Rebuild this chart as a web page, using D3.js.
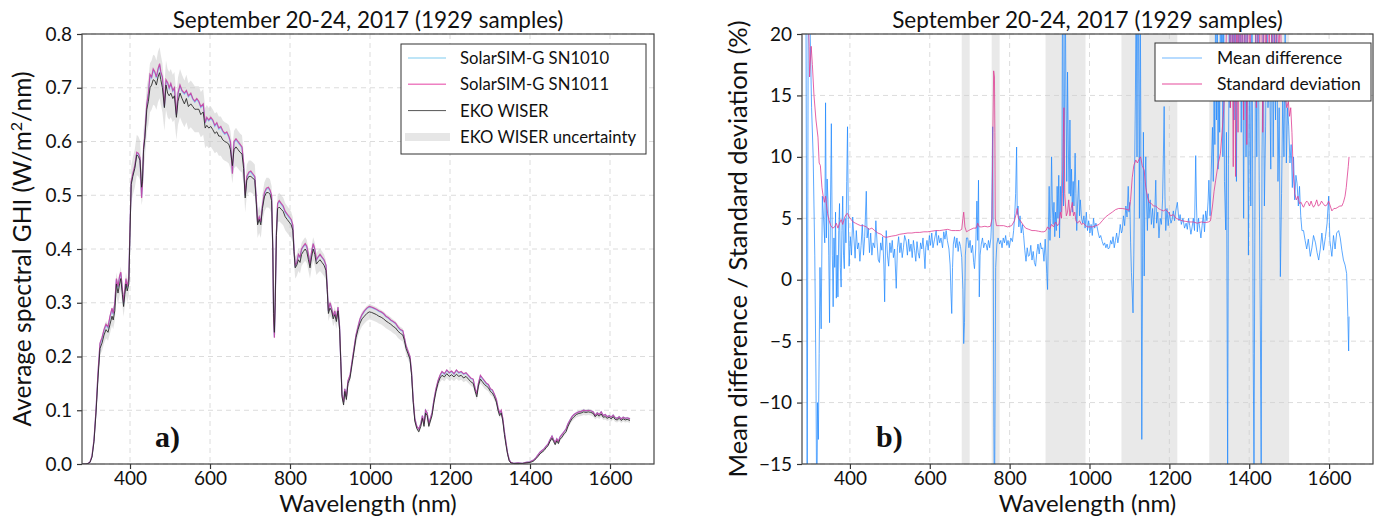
<!DOCTYPE html>
<html>
<head>
<meta charset="utf-8">
<script src="https://cdn.jsdelivr.net/npm/d3@7"></script>
<style>
  body { margin: 0; background: #fff; }
  svg text { font-family: Lato, "Open Sans", sans-serif; fill: #111; }
</style>
</head>
<body>
<svg id="chart" width="1385" height="521"></svg>
<script>
// ---- data ----
// panel a) spectra, shared wavelength grid (nm)
var specWl = [
  280,290,295,300,305,310,315,320,325,330,
  335,340,345,350,355,358,362,366,370,374,
  377,381,384,387,390,393,397,400,403,407,
  412,417,421,425,429,431,434,437,442,446,
  450,454,458,462,466,470,474,477,481,486,
  490,494,498,502,507,511,516,520,525,530,
  536,541,546,552,557,562,567,572,577,583,
  588,592,597,602,607,612,617,622,627,632,
  637,642,647,651,656,660,665,670,675,680,
  684,688,692,697,702,707,712,716,719,723,
  727,731,736,741,746,750,754,757,759,761,
  763,766,769,773,778,783,788,793,798,803,
  807,810,813,817,821,825,829,833,838,842,
  846,850,854,858,862,866,870,875,880,885,
  890,893,896,900,904,908,912,916,920,924,
  927,930,934,937,941,945,950,955,960,965,
  970,975,980,986,992,998,1004,1010,1016,1022,
  1028,1034,1040,1046,1052,1058,1064,1070,1076,1082,
  1086,1090,1095,1100,1104,1108,1112,1117,1122,1127,
  1131,1135,1139,1143,1147,1151,1155,1160,1165,1170,
  1175,1180,1186,1192,1198,1204,1210,1216,1222,1228,
  1234,1240,1246,1252,1258,1263,1267,1271,1276,1281,
  1286,1291,1296,1301,1306,1311,1316,1320,1324,1328,
  1332,1336,1340,1344,1348,1352,1360,1370,1380,1390,
  1400,1405,1410,1415,1420,1425,1430,1435,1440,1445,
  1450,1455,1459,1463,1467,1471,1475,1480,1485,1490,
  1495,1500,1505,1510,1516,1522,1528,1534,1540,1546,
  1552,1558,1563,1568,1573,1578,1583,1588,1593,1598,
  1603,1608,1613,1618,1623,1628,1633,1638,1643,1650
];

var sn1010 = [
  0,0,0.001,0.004,0.014,0.044,0.099,0.168,0.223,0.233,
  0.248,0.258,0.253,0.273,0.288,0.278,0.298,0.343,0.328,0.348,
  0.355,0.323,0.298,0.323,0.343,0.328,0.343,0.438,0.523,0.538,
  0.553,0.578,0.576,0.568,0.497,0.519,0.588,0.608,0.668,0.688,
  0.722,0.718,0.732,0.728,0.718,0.732,0.742,0.728,0.718,0.664,
  0.712,0.708,0.698,0.706,0.693,0.698,0.649,0.688,0.703,0.693,
  0.688,0.693,0.683,0.688,0.678,0.673,0.678,0.673,0.663,0.668,
  0.634,0.643,0.638,0.643,0.638,0.628,0.633,0.623,0.626,0.618,
  0.613,0.616,0.608,0.598,0.541,0.598,0.603,0.598,0.593,0.588,
  0.558,0.499,0.533,0.541,0.543,0.538,0.533,0.489,0.449,0.459,
  0.449,0.479,0.503,0.511,0.513,0.508,0.498,0.399,0.27,0.236,
  0.30,0.429,0.483,0.488,0.483,0.478,0.468,0.463,0.458,0.453,
  0.443,0.399,0.369,0.374,0.389,0.384,0.399,0.404,0.408,0.403,
  0.389,0.369,0.394,0.408,0.399,0.379,0.384,0.389,0.384,0.379,
  0.369,0.329,0.284,0.299,0.289,0.274,0.284,0.269,0.291,0.254,
  0.19,0.13,0.115,0.14,0.125,0.154,0.164,0.189,0.214,0.239,
  0.254,0.269,0.277,0.284,0.289,0.292,0.291,0.289,0.287,0.284,
  0.282,0.279,0.274,0.271,0.267,0.264,0.261,0.254,0.249,0.247,
  0.234,0.219,0.209,0.199,0.169,0.119,0.085,0.07,0.065,0.075,
  0.09,0.075,0.10,0.095,0.075,0.085,0.095,0.12,0.139,0.154,
  0.164,0.171,0.167,0.174,0.169,0.172,0.167,0.174,0.169,0.171,
  0.167,0.169,0.164,0.159,0.157,0.14,0.13,0.149,0.164,0.159,
  0.154,0.149,0.147,0.139,0.137,0.129,0.119,0.104,0.094,0.099,
  0.084,0.06,0.04,0.02,0.008,0.003,0.001,0.002,0.001,0.003,
  0.004,0.006,0.008,0.012,0.017,0.022,0.025,0.028,0.033,0.037,
  0.045,0.052,0.045,0.04,0.047,0.042,0.05,0.055,0.06,0.065,
  0.075,0.082,0.088,0.092,0.095,0.097,0.098,0.10,0.099,0.10,
  0.099,0.097,0.09,0.095,0.092,0.097,0.09,0.092,0.088,0.09,
  0.087,0.091,0.086,0.085,0.088,0.084,0.087,0.085,0.086,0.084
];

var sn1011 = [
  0,0,0.001,0.004,0.015,0.045,0.10,0.17,0.225,0.235,
  0.25,0.26,0.255,0.275,0.29,0.28,0.30,0.345,0.33,0.35,
  0.357,0.325,0.30,0.325,0.345,0.33,0.345,0.44,0.525,0.54,
  0.555,0.58,0.578,0.57,0.495,0.52,0.59,0.61,0.67,0.69,
  0.725,0.72,0.735,0.73,0.72,0.735,0.745,0.73,0.72,0.665,
  0.715,0.71,0.70,0.708,0.695,0.70,0.65,0.69,0.705,0.695,
  0.69,0.695,0.685,0.69,0.68,0.675,0.68,0.675,0.665,0.67,
  0.635,0.645,0.64,0.645,0.64,0.63,0.635,0.625,0.628,0.62,
  0.615,0.618,0.61,0.60,0.54,0.60,0.605,0.60,0.595,0.59,
  0.56,0.50,0.535,0.543,0.545,0.54,0.535,0.49,0.45,0.46,
  0.45,0.48,0.505,0.513,0.515,0.51,0.50,0.40,0.27,0.235,
  0.30,0.43,0.485,0.49,0.485,0.48,0.47,0.465,0.46,0.455,
  0.445,0.40,0.37,0.375,0.39,0.385,0.40,0.405,0.41,0.405,
  0.39,0.37,0.395,0.41,0.40,0.38,0.385,0.39,0.385,0.38,
  0.37,0.33,0.285,0.30,0.29,0.275,0.285,0.27,0.292,0.255,
  0.19,0.13,0.115,0.14,0.125,0.155,0.165,0.19,0.215,0.24,
  0.255,0.27,0.278,0.285,0.29,0.293,0.292,0.29,0.288,0.285,
  0.283,0.28,0.275,0.272,0.268,0.265,0.262,0.255,0.25,0.248,
  0.235,0.22,0.21,0.20,0.17,0.12,0.085,0.07,0.065,0.075,
  0.09,0.075,0.10,0.095,0.075,0.085,0.095,0.12,0.14,0.155,
  0.165,0.172,0.168,0.175,0.17,0.173,0.168,0.175,0.17,0.172,
  0.168,0.17,0.165,0.16,0.158,0.14,0.13,0.15,0.165,0.16,
  0.155,0.15,0.148,0.14,0.138,0.13,0.12,0.105,0.095,0.10,
  0.085,0.06,0.04,0.02,0.008,0.003,0.001,0.002,0.001,0.003,
  0.004,0.006,0.008,0.012,0.017,0.022,0.025,0.028,0.033,0.037,
  0.045,0.052,0.045,0.04,0.047,0.042,0.05,0.055,0.06,0.065,
  0.075,0.082,0.088,0.092,0.095,0.097,0.098,0.10,0.099,0.10,
  0.099,0.097,0.09,0.095,0.092,0.097,0.09,0.092,0.088,0.09,
  0.087,0.091,0.086,0.085,0.088,0.084,0.087,0.085,0.086,0.084
];

var ekoWiser = [
  0,0,0.001,0.003,0.013,0.042,0.095,0.16,0.215,0.225,
  0.24,0.25,0.245,0.26,0.275,0.268,0.285,0.335,0.318,0.335,
  0.345,0.315,0.293,0.315,0.335,0.322,0.335,0.43,0.52,0.535,
  0.55,0.575,0.572,0.565,0.515,0.525,0.585,0.605,0.66,0.675,
  0.70,0.705,0.715,0.713,0.705,0.72,0.728,0.715,0.70,0.663,
  0.705,0.69,0.685,0.69,0.68,0.685,0.645,0.675,0.69,0.68,
  0.67,0.68,0.665,0.67,0.665,0.66,0.66,0.66,0.65,0.655,
  0.625,0.63,0.625,0.628,0.622,0.615,0.618,0.61,0.61,0.603,
  0.60,0.598,0.595,0.585,0.555,0.585,0.59,0.585,0.58,0.577,
  0.55,0.495,0.528,0.535,0.535,0.532,0.528,0.482,0.445,0.455,
  0.445,0.475,0.497,0.505,0.505,0.502,0.49,0.40,0.28,0.245,
  0.30,0.425,0.475,0.478,0.474,0.47,0.46,0.455,0.45,0.445,
  0.435,0.395,0.365,0.37,0.38,0.375,0.39,0.395,0.40,0.395,
  0.38,0.365,0.385,0.40,0.39,0.372,0.376,0.38,0.375,0.37,
  0.36,0.325,0.28,0.29,0.285,0.27,0.278,0.265,0.285,0.25,
  0.19,0.125,0.11,0.135,0.12,0.15,0.16,0.185,0.21,0.235,
  0.25,0.262,0.27,0.275,0.28,0.283,0.282,0.28,0.278,0.275,
  0.273,0.27,0.266,0.263,0.26,0.256,0.253,0.247,0.243,0.24,
  0.23,0.215,0.205,0.195,0.165,0.115,0.08,0.066,0.06,0.07,
  0.085,0.07,0.095,0.09,0.07,0.08,0.09,0.115,0.135,0.15,
  0.16,0.165,0.162,0.168,0.163,0.166,0.162,0.167,0.163,0.165,
  0.16,0.163,0.158,0.153,0.15,0.135,0.125,0.145,0.158,0.153,
  0.148,0.145,0.142,0.135,0.132,0.125,0.115,0.10,0.09,0.095,
  0.08,0.055,0.035,0.018,0.006,0.002,0.001,0.001,0.001,0.002,
  0.003,0.004,0.006,0.01,0.014,0.019,0.022,0.025,0.03,0.034,
  0.042,0.048,0.042,0.036,0.043,0.038,0.046,0.05,0.056,0.06,
  0.07,0.078,0.084,0.088,0.092,0.094,0.095,0.097,0.096,0.097,
  0.096,0.094,0.088,0.092,0.089,0.093,0.087,0.088,0.085,0.087,
  0.084,0.088,0.083,0.082,0.085,0.081,0.084,0.082,0.083,0.081
];

// EKO WISER uncertainty (% of reading)
var ekoUncPct = [
  6,6,6,6,6,6,6,6,6,6.5,
  6.5,6.5,6.5,6.5,6.5,6.5,6.5,6.5,6.5,6.5,
  6.5,6.5,6.5,6.5,6.5,6.5,6.5,6.5,6.5,6.5,
  6.5,6.5,6.5,6.5,6.5,6.5,6.5,6.5,6.5,6.5,
  6.5,6.5,6.5,6.5,6.5,6.5,6.5,6.5,6.5,6.5,
  6.5,6.5,6.5,6.5,6.5,6.5,6.5,6.5,6.5,6.5,
  6.5,6.5,6.5,6.5,6.5,6.5,6.5,6.5,6.5,6.5,
  6,6,6,6,6,6,6,6,6,6,
  6,6,6,6,6,6,6,6,6,6,
  5.5,5.5,5.5,5.5,5.5,5.5,5.5,5.5,5.5,5.5,
  5.5,5.5,5.5,5.5,5.5,5.5,5.5,5.5,5.5,5.5,
  5.5,5.5,5.5,5.5,5.5,5.5,5.5,5.5,5.5,5.5,
  5.5,5.5,5.5,5.5,5.5,5.5,5.5,5.5,5.5,5.5,
  5.5,5.5,5.5,5.5,5.5,5.5,5.5,5.5,5.5,5.5,
  5,5,5,5,5,5,5,5,5,5,
  5,5,5,5,5,5,5,5,5,5,
  5,5,5,5,5,5,5,5,5,5,
  5,5,5,5,5,5,5,5,5,5,
  5,5,5,5,5,5,5,5,5,5,
  5,5,5,5,5,5,5,5,5,5,
  5,5,5,5,5,5,5,5,5,5,
  5,5,5,5,5,5,5,5,5,5,
  5,5,5,5,5,5,5,5,5,5,
  5,5,5,5,5,5,5,5,5,5,
  6,6,6,6,6,6,6,6,6,6,
  6,6,6,6,6,6,6,6,6,6,
  6,6,6,6,6,6,6,6,6,6,
  6,6,6,6,6,6,6,6,6,6,
  6,6,6,6,6,6,6,6,6,6
];

// panel b) [wavelength nm, %]
var meanDiff = [
  [284,25],[290,22],[293,-20],[296,30],[300,21],[304,14],[308,10],[312,2],[315,-8],[317,-20],
  [319,-10],[321,-13],[323,-6],[325,1],[328,-4],[331,6.8],[334,5],[337,3],[339,14.4],[341,3.4],
  [343,8.2],[345,6.5],[347,2],[349,-3.5],[351,5],[353.5,12.7],[356,2],[358,-2.2],[360,3.4],[362,1],
  [364,5.5],[366,-1.5],[368,2],[370,-1.4],[372,4],[374,6.2],[376,1],[378,-0.6],[380,4],[382,6.8],
  [384,2],[386,0.9],[388,5],[390,3],[392,8],[394,12.45],[396,4.9],[398,1.1],[401,3.5],[404,2],
  [407,5.1],[410,3.4],[413,1.75],[416,4],[419,2.5],[422,3],[425,1.5],[428,2.8],[431,4.5],[434,2],
  [437,3.5],[441,7.2],[443,3.4],[446,4.2],[449,2.2],[452,3.8],[455,2],[458,3],[462,2.6],[465,4.8],
  [468,3],[471,1.6],[474,1.4],[477,3],[480,2.4],[482,3.5],[485,1.2],[487,-1.8],[489,2.5],[491,4],
  [494,2],[497,1.1],[500,3],[503,2.2],[506,3.2],[509,1.8],[512,2.5],[516,-0.7],[519,2.6],[522,3.5],
  [525,2.2],[528,3],[531,1.8],[534,2.6],[537,3.6],[541,3.1],[544,2],[547,3.3],[550,2.3],[553,2.9],
  [556,1.8],[559,3.2],[562,2.4],[565,1.5],[568,3.1],[571,2.2],[574,1.75],[577,3],[580,2.5],[583,3.4],
  [586,2],[588,0.9],[590,2.6],[593,3.2],[596,2.4],[599,3.6],[602,2.8],[605,3.8],[608,2.6],[612,3.3],
  [616,4],[619,2.8],[622,3.6],[625,3],[628,3.4],[632,2.6],[635,3.9],[638,3.3],[641,4],[644,3.2],
  [648,2.5],[651,1.2],[653,-1],[655,-2.75],[657,1],[659,2.9],[662,3.5],[665,2.6],[668,3.4],[671,2.3],
  [674,3.1],[677,2.7],[680,1.8],[683,-0.8],[685,-5.2],[687,-3.5],[689,2],[692,3.4],[695,3.4],[698,2.6],
  [701,3.2],[704,2.2],[707,2.8],[710,1.4],[712,0.9],[715,2.5],[718,6.4],[720,3.2],[722,8.1],[724,-1.4],
  [726,2],[729,2.9],[732,3.4],[735,2.6],[738,3],[741,2.9],[744,2.4],[747,3.2],[750,2.6],[753,3.4],
  [755,5],[757.5,12.45],[759,2],[760.5,-12],[762,-20],[763.5,-10],[765,1],[768,2.9],[771,3.4],[775,2.9],
  [778,3.2],[781,2.6],[784,3.4],[787,3],[790,3.6],[793,2.8],[796,3.2],[799,2.6],[803,3.4],[807,3.1],
  [810,4],[813,5.4],[815,7],[817.5,10.8],[819,5.3],[821,6],[823,4.3],[826,5.2],[829,3.8],[832,4.5],
  [835,3.6],[838,2.4],[841,1.5],[844,2.6],[847,1.9],[850,2],[853,2.8],[856,1.6],[859,2.3],[862,1.4],
  [865,1.1],[868,2.2],[871,2.9],[874,2.1],[877,3],[880,2.5],[883,2.6],[886,1.5],[889,3.3],[891,2],
  [893,0.5],[895,-0.8],[897,4],[899,7.6],[901,3.2],[903,5],[905,10],[907,6],[909,4.5],[911,6.3],
  [913,3.5],[915,5.5],[917,4],[919,7.6],[921,5],[923,8.5],[925,3.4],[927,7.6],[929,5.5],[931,9],
  [933,30],[935,6],[937,10.4],[939,25],[941,15],[943,8],[945,16.9],[947,10.8],[949,7],[951,13],
  [953,6.8],[955,9],[957,5.5],[959,8],[961,6],[964,10.3],[966,7],[968,4],[970,6],[973,8.1],
  [975,5.2],[977,6.5],[980,5],[983,4.6],[986,5.2],[989,4.2],[992,5.5],[995,4],[998,4.8],[1001,3.8],
  [1004,4.5],[1007,3.6],[1010,5],[1013,4.2],[1016,4.6],[1019,4.3],[1022,3.8],[1025,3.4],[1028,3.6],[1032,3.1],
  [1035,2.8],[1038,3],[1041,2.6],[1044,2.9],[1047,2.5],[1050,2.6],[1053,3.2],[1056,2.9],[1059,3.5],[1062,2.6],
  [1065,3.2],[1068,3.8],[1071,3],[1074,3.6],[1077,4.5],[1080,3.8],[1082,4],[1085,5.2],[1088,4.4],[1091,6],
  [1094,5.1],[1097,7.6],[1099,5.5],[1101,6.3],[1103,3],[1105,0.6],[1107,-1],[1109,-2.7],[1111,2],[1113,9],
  [1115,15],[1117,25],[1119,10],[1121,30],[1123,17.8],[1125,5],[1127,25],[1129,8],[1131,-13],[1133,2],
  [1135,12],[1137,0.3],[1139,8],[1141,10],[1143,6],[1145,4],[1147,7],[1149,5],[1152,6.5],[1155,4.5],
  [1158,5.8],[1161,4.2],[1164,6],[1166,8.1],[1168,4.6],[1171,5.5],[1174,3.4],[1177,5],[1180,4.5],[1183,6.5],
  [1185,10],[1187,14.1],[1189,6.8],[1191,4],[1194,5.8],[1197,4.4],[1200,5.5],[1204,4.6],[1207,4.9],[1210,5.6],
  [1213,4.8],[1216,5.6],[1220,6.3],[1224,4.8],[1227,5.3],[1230,4.5],[1234,5],[1238,4.2],[1242,4.6],[1245,4.1],
  [1248,5],[1251,4.4],[1254,3.7],[1257,4.3],[1260,5],[1263,4],[1266,10.1],[1268,6],[1270,3.9],[1273,5],
  [1276,4.2],[1279,3.4],[1282,4.4],[1285,5.3],[1288,3.9],[1291,5.6],[1294,4.8],[1297,6.4],[1299,8.1],[1302,5.2],
  [1305,9],[1308,12.4],[1310,8],[1312,15],[1314,11],[1316,25],[1318,13],[1320,22],[1322,9],[1324,18],
  [1326,12],[1328,25],[1330,16],[1332,30],[1334,10],[1336,24],[1338,8],[1341,4.05],[1343,12],[1346,-16],
  [1348,9.4],[1350,20],[1352,14],[1355,30],[1357.5,17],[1360,25],[1362,13],[1365,25],[1368,8],[1371,30],
  [1374,16],[1377,25],[1380,12],[1383,24],[1386,5],[1389,25],[1392,10],[1395,24],[1398,2],[1401,18],
  [1404,6],[1407,25],[1410,-6],[1412,-16],[1414,3],[1416,22],[1419,10],[1422,25],[1425,8],[1428,-4.1],
  [1430,-16],[1432,10],[1435,20],[1438,6],[1441,12.5],[1444,25],[1447,14],[1451,17.6],[1454,9],[1457,25],
  [1460,10],[1463,20],[1466,13],[1469,22],[1472,8],[1475,14],[1478,0.25],[1481,7],[1484,15],[1487,10],
  [1490,20],[1493,9.5],[1496,14],[1499,12.5],[1502,9.5],[1505,11],[1508,7.5],[1511,10],[1514,6.5],[1517,8.5],
  [1520,7.8],[1523,6],[1526,7.6],[1529,5.2],[1532,4],[1536,4],[1540,3.2],[1544,2.5],[1548,3.3],[1553,1.9],
  [1557,2.6],[1561,3.6],[1566,3],[1570,2.2],[1574,1.6],[1578,2.5],[1582,3.8],[1586,2.4],[1591,3.5],[1595,4.6],
  [1599,6.8],[1602,3.2],[1605,2.4],[1607,1.9],[1611,3.6],[1615,2.5],[1619,3.8],[1624,4],[1628,3.4],[1632,2.4],
  [1636,1.6],[1640,1.2],[1644,0.5],[1647,-3],[1649,-5.8],[1650,-3]
];

var stdDev = [
  [283,30],[290,25],[295,22],[298,19],[299,16.5],[301,17.8],[303,19],[306,17.5],[310,15],[315,13],
  [320,11.6],[323,9.5],[326,9.3],[330,7.5],[333,6.8],[336,6.3],[339,6.8],[341,6.2],[344,5.4],[348,4.8],
  [352,4.4],[357,4.2],[362,4.3],[366,4.6],[370,4.2],[374,4.6],[378,4.9],[382,4.5],[386,5],[390,5.3],
  [394,5.4],[398,5.1],[403,4.9],[408,4.7],[414,4.6],[420,4.5],[427,4.4],[434,4.4],[441,4.3],[448,4.1],
  [455,4.2],[462,4],[470,3.8],[478,3.7],[485,3.5],[491,3.45],[498,3.5],[505,3.55],[515,3.6],[525,3.7],
  [535,3.75],[545,3.8],[555,3.8],[565,3.85],[575,3.85],[585,3.9],[595,3.9],[605,3.95],[615,4],[625,4],
  [635,4.05],[645,4.1],[655,4],[665,4],[675,4],[680,4.1],[683,5],[685,5.5],[688,4.3],[692,3.9],
  [697,4],[703,4.1],[710,4.2],[716,4.2],[720,4.6],[724,4.3],[730,4.3],[738,4.35],[745,4.3],[752,4.35],
  [756,5],[758,12],[760,17],[762,16.5],[763,12],[764,5],[767,4.4],[775,4.4],[785,4.4],[795,4.3],
  [805,4.4],[812,4.8],[816,5.3],[819,5.8],[822,5],[827,4.8],[833,4.5],[840,4.2],[848,4.1],[856,4],
  [864,4],[872,3.95],[880,3.9],[886,3.9],[891,4],[895,4.3],[900,4.1],[905,4.5],[910,4.3],[915,4.7],
  [920,4.4],[924,4.6],[927,5.5],[930,5],[932,7],[934,11],[936,14],[938,7],[940,6],[942,5.2],
  [945,5.5],[948,6.5],[951,5.2],[954,5.8],[957,6.3],[960,5.2],[963,5.5],[966,4.8],[970,4.6],[975,4.8],
  [980,4.5],[985,4.6],[990,4.4],[995,4.3],[1000,4.3],[1008,4.3],[1016,4.4],[1024,4.5],[1032,4.8],[1040,5.1],
  [1048,5.3],[1057,5.5],[1065,5.7],[1073,5.8],[1082,5.8],[1090,5.75],[1099,5.65],[1103,6.5],[1107,8.3],[1111,9.3],
  [1116,9.75],[1120,9.5],[1124,9.8],[1128,10],[1132,9.3],[1137,8.9],[1141,7.5],[1145,6.8],[1149,6.3],[1155,6.2],
  [1160,6],[1166,6],[1172,5.8],[1178,5.7],[1185,5.6],[1191,5.7],[1197,5.5],[1203,5.2],[1210,5.3],[1217,5],
  [1224,4.9],[1232,4.8],[1240,4.75],[1250,4.7],[1260,4.7],[1270,4.6],[1280,4.7],[1290,4.65],[1298,4.7],[1303,4.8],
  [1308,6],[1312,7.2],[1316,8.1],[1322,9.4],[1328,10.3],[1332,12],[1336,13.8],[1339,16],[1342,19],[1345,24],
  [1350,25],[1353,14],[1356,28],[1360,9.2],[1363,26],[1366,8.4],[1369,25],[1372,12],[1375,27],[1378,15],
  [1382,25],[1386,13],[1390,28],[1394,11],[1398,25],[1402,16],[1406,27],[1410,20.5],[1414,26],[1418,14],
  [1422,25],[1426,18],[1430,27],[1434,12],[1438,25],[1442,16],[1446,26],[1450,19],[1454,24],[1458,15],
  [1462,25],[1466,17],[1470,23],[1474,18],[1478,22],[1482,16],[1486,19],[1490,15],[1494,14],[1498,14.5],
  [1501,13.3],[1504,14],[1507,12],[1510,9],[1514,7],[1518,6.5],[1522,6.8],[1526,6.2],[1530,6.3],[1534,6],
  [1536,5.9],[1540,6.2],[1544,6.4],[1547,6.3],[1551,6],[1555,6.4],[1558,6.1],[1561,5.9],[1565,6.1],[1569,6.5],
  [1573,6],[1577,6.1],[1581,6.4],[1585,6.2],[1590,6],[1595,6.1],[1599,6.4],[1603,6],[1607,5.6],[1612,5.8],
  [1617,5.8],[1622,5.9],[1627,6],[1632,6],[1636,6.3],[1640,6.8],[1643,7.5],[1645,8.2],[1648,9.2],[1650,10]
];

// absorption bands shaded in panel b) [start, end] nm
var shadedBands = [[680,700],[755,775],[890,990],[1080,1220],[1300,1500]];

var xTickVals = [400, 600, 800, 1000, 1200, 1400, 1600];
var yTicksA = [0, 0.1, 0.2, 0.3, 0.4, 0.5, 0.6, 0.7, 0.8];
var yTicksB = [-15, -10, -5, 0, 5, 10, 15, 20];
var titleText = "September 20-24, 2017 (1929 samples)";

// ---- layout ----
var svg = d3.select("#chart");
var plotTop = 34, plotBottom = 464;
var xDomain = [280, 1710];

function setupPanel(left, right, yDomain, yTicks, yFmt, id) {
  var x = d3.scaleLinear().domain(xDomain).range([left, right]);
  var y = d3.scaleLinear().domain(yDomain).range([plotBottom, plotTop]);
  var g = svg.append("g");

  svg.append("clipPath").attr("id", id)
    .append("rect")
      .attr("x", left).attr("y", plotTop)
      .attr("width", right - left).attr("height", plotBottom - plotTop);

  // grid
  var grid = g.append("g").attr("class", "grid");
  grid.selectAll("line.vx").data(xTickVals).enter().append("line")
      .attr("x1", function(d) { return x(d); }).attr("x2", function(d) { return x(d); })
      .attr("y1", plotTop).attr("y2", plotBottom);
  grid.selectAll("line.hy").data(yTicks).enter().append("line")
      .attr("x1", left).attr("x2", right)
      .attr("y1", function(d) { return y(d); }).attr("y2", function(d) { return y(d); });
  grid.selectAll("line")
      .attr("stroke", "#dcdcdc").attr("stroke-width", 1)
      .attr("stroke-dasharray", "5,4");

  var plot = g.append("g").attr("clip-path", "url(#" + id + ")");

  // axes
  var xAxis = g.append("g")
      .attr("transform", "translate(0," + plotBottom + ")")
      .call(d3.axisBottom(x).tickValues(xTickVals).tickSize(5).tickPadding(3).tickFormat(d3.format("d")));
  var yAxis = g.append("g")
      .attr("transform", "translate(" + left + ",0)")
      .call(d3.axisLeft(y).tickValues(yTicks).tickSize(5).tickPadding(5).tickFormat(yFmt));
  [xAxis, yAxis].forEach(function(a) {
    a.select(".domain").remove();
    a.selectAll(".tick line").attr("stroke", "#333").attr("stroke-width", 1.2);
    a.selectAll(".tick text").attr("font-size", 19).attr("fill", "#111")
      .attr("font-family", "Lato, sans-serif");
  });

  // title
  g.append("text")
      .attr("x", (left + right) / 2).attr("y", 28)
      .attr("text-anchor", "middle").attr("font-size", 22.5)
      .text(titleText);
  // x label
  g.append("text")
      .attr("x", (left + right) / 2).attr("y", 512)
      .attr("text-anchor", "middle").attr("font-size", 24)
      .text("Wavelength (nm)");

  return { x: x, y: y, g: g, plot: plot, left: left, right: right };
}

function frame(p) {
  p.g.append("rect")
      .attr("x", p.left).attr("y", plotTop)
      .attr("width", p.right - p.left).attr("height", plotBottom - plotTop)
      .attr("fill", "none").attr("stroke", "#444").attr("stroke-width", 1.2);
}

// ---- panel a) ----
var pa = setupPanel(82, 654, [0, 0.8], yTicksA, d3.format(".1f"), "clipA");

var specRows = specWl.map(function(w, i) {
  return { w: w, s10: sn1010[i], s11: sn1011[i], eko: ekoWiser[i], unc: ekoUncPct[i] };
});

pa.plot.append("path")
    .datum(specRows)
    .attr("fill", "#cccccc").attr("fill-opacity", 0.55)
    .attr("d", d3.area()
      .x(function(d) { return pa.x(d.w); })
      .y0(function(d) { return pa.y(d.eko * (1 - d.unc / 100)); })
      .y1(function(d) { return pa.y(d.eko * (1 + d.unc / 100)); }));

function specLine(key) {
  return d3.line().x(function(d) { return pa.x(d.w); }).y(function(d) { return pa.y(d[key]); });
}
pa.plot.append("path").datum(specRows)
    .attr("fill", "none").attr("stroke", "#87cefa").attr("stroke-width", 1.2)
    .attr("d", specLine("s10"));
pa.plot.append("path").datum(specRows)
    .attr("fill", "none").attr("stroke", "#c8389e").attr("stroke-width", 1.2).attr("stroke-opacity", 0.85)
    .attr("d", specLine("s11"));
pa.plot.append("path").datum(specRows)
    .attr("fill", "none").attr("stroke", "#2a2a2a").attr("stroke-width", 0.9)
    .attr("d", specLine("eko"));
frame(pa);

// y label with superscript
var yla = pa.g.append("text")
    .attr("transform", "translate(31," + ((plotTop + plotBottom) / 2) + ") rotate(-90)")
    .attr("text-anchor", "middle").attr("font-size", 24.5);
yla.append("tspan").text("Average spectral GHI (W/m");
yla.append("tspan").attr("font-size", 16).attr("dy", -9).text("2");
yla.append("tspan").attr("dy", 9).text("/nm)");

// legend a)
var legA = pa.g.append("g");
legA.append("rect").attr("x", 401).attr("y", 44).attr("width", 245).attr("height", 110)
    .attr("fill", "#fff").attr("stroke", "#333").attr("stroke-width", 1);
var legAItems = [
  { label: "SolarSIM-G SN1010", color: "#a9dcf5", w: 1.5 },
  { label: "SolarSIM-G SN1011", color: "#ee80c2", w: 1.5 },
  { label: "EKO WISER", color: "#555", w: 1 },
  { label: "EKO WISER uncertainty", color: "#e6e6e6", w: 8 }
];
legAItems.forEach(function(it, i) {
  var yy = 58 + i * 26.3;
  legA.append("line").attr("x1", i === 3 ? 405 : 408).attr("x2", i === 3 ? 450 : 446)
      .attr("y1", yy).attr("y2", yy).attr("stroke", it.color).attr("stroke-width", it.w);
  legA.append("text").attr("x", 460).attr("y", yy + 6).attr("font-size", 16.7).text(it.label);
});

pa.g.append("text").attr("x", 155).attr("y", 447)
    .attr("font-weight", "bold").attr("font-size", 30).style("font-family", "'Liberation Serif', serif")
    .text("a)");

// ---- panel b) ----
var minusFmt = function(d) { return d < 0 ? "\u2212" + Math.abs(d) : String(d); };
var pb = setupPanel(802, 1373, [-15, 20], yTicksB, minusFmt, "clipB");

pb.plot.selectAll("rect.band").data(shadedBands).enter().append("rect")
    .attr("x", function(d) { return pb.x(d[0]); })
    .attr("width", function(d) { return pb.x(d[1]) - pb.x(d[0]); })
    .attr("y", plotTop).attr("height", plotBottom - plotTop)
    .attr("fill", "#cfcfcf").attr("fill-opacity", 0.45);

var lineB = d3.line().x(function(d) { return pb.x(d[0]); }).y(function(d) { return pb.y(d[1]); });
pb.plot.append("path").datum(meanDiff)
    .attr("fill", "none").attr("stroke", "#1e88ff").attr("stroke-opacity", 0.72).attr("stroke-width", 1)
    .attr("d", lineB);
pb.plot.append("path").datum(stdDev)
    .attr("fill", "none").attr("stroke", "#de3d92").attr("stroke-opacity", 0.8).attr("stroke-width", 1)
    .attr("d", lineB);
frame(pb);

pb.g.append("text")
    .attr("transform", "translate(747," + ((plotTop + plotBottom) / 2) + ") rotate(-90)")
    .attr("text-anchor", "middle").attr("font-size", 25.5)
    .text("Mean difference / Standard deviation (%)");

var legB = pb.g.append("g");
legB.append("rect").attr("x", 1155).attr("y", 43).attr("width", 216).attr("height", 58)
    .attr("fill", "#fff").attr("stroke", "#333").attr("stroke-width", 1);
[{ label: "Mean difference", color: "#9fcfff" }, { label: "Standard deviation", color: "#ee86bd" }]
  .forEach(function(it, i) {
    var yy = 58 + i * 26;
    legB.append("line").attr("x1", 1162).attr("x2", 1202).attr("y1", yy).attr("y2", yy)
        .attr("stroke", it.color).attr("stroke-width", 1.5);
    legB.append("text").attr("x", 1217).attr("y", yy + 6).attr("font-size", 17.5).text(it.label);
  });

pb.g.append("text").attr("x", 876).attr("y", 447)
    .attr("font-weight", "bold").attr("font-size", 30).style("font-family", "'Liberation Serif', serif")
    .text("b)");
</script>
</body>
</html>
